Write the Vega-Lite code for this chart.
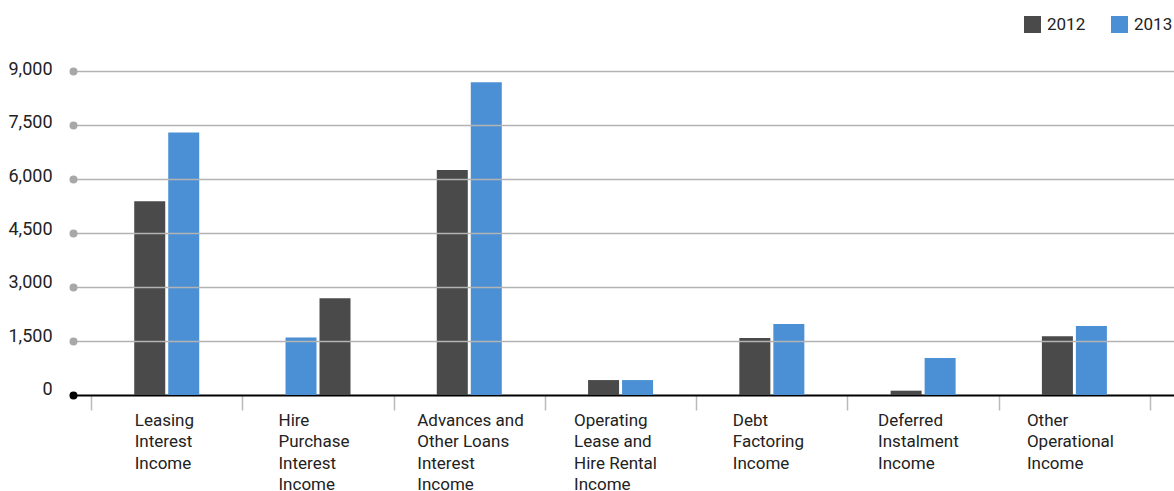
{
  "$schema": "https://vega.github.io/schema/vega-lite/v6.json",
  "autosize": "none",
  "width": 1101,
  "height": 324,
  "padding": {"left": 73, "top": 71, "right": 0, "bottom": 96},
  "background": "white",
  "data": {
    "values": [
      {"category": "Leasing Interest Income", "slot": 1, "year": "2012", "value": 5380},
      {"category": "Leasing Interest Income", "slot": 2, "year": "2013", "value": 7295},
      {"category": "Hire Purchase Interest Income", "slot": 1, "year": "2013", "value": 1600},
      {"category": "Hire Purchase Interest Income", "slot": 2, "year": "2012", "value": 2685},
      {"category": "Advances and Other Loans Interest Income", "slot": 1, "year": "2012", "value": 6250},
      {"category": "Advances and Other Loans Interest Income", "slot": 2, "year": "2013", "value": 8690},
      {"category": "Operating Lease and Hire Rental Income", "slot": 1, "year": "2012", "value": 415},
      {"category": "Operating Lease and Hire Rental Income", "slot": 2, "year": "2013", "value": 415},
      {"category": "Debt Factoring Income", "slot": 1, "year": "2012", "value": 1580},
      {"category": "Debt Factoring Income", "slot": 2, "year": "2013", "value": 1970},
      {"category": "Deferred Instalment Income", "slot": 1, "year": "2012", "value": 120},
      {"category": "Deferred Instalment Income", "slot": 2, "year": "2013", "value": 1025},
      {"category": "Other Operational Income", "slot": 1, "year": "2012", "value": 1635},
      {"category": "Other Operational Income", "slot": 2, "year": "2013", "value": 1915}
    ]
  },
  "config": {
    "view": {"stroke": null},
    "font": "Roboto"
  },
  "mark": {"type": "bar", "strokeWidth": 0},
  "encoding": {
    "x": {
      "field": "category",
      "type": "nominal",
      "sort": null,
      "scale": {"paddingInner": 0, "paddingOuter": 0.139, "align": 0.43},
      "axis": {
        "title": null,
        "orient": "bottom",
        "domain": true,
        "domainColor": "#000000",
        "domainWidth": 2,
        "ticks": true,
        "tickBand": "extent",
        "tickColor": "#bbbbbb",
        "tickWidth": 1.5,
        "tickSize": 15,
        "grid": false,
        "labelAngle": 0,
        "labelAlign": "left",
        "labelBaseline": "top",
        "labelPadding": 2,
        "labelFont": "Roboto",
        "labelFontSize": 17,
        "labelColor": "#222222",
        "labelLineHeight": 21.5,
        "labelBound": false,
        "labelOverlap": false,
        "labelLimit": 300,
        "labelOffset": {"expr": "{'Leasing Interest Income': -32.5, 'Hire Purchase Interest Income': -40, 'Advances and Other Loans Interest Income': -52.5, 'Operating Lease and Hire Rental Income': -47, 'Debt Factoring Income': -39.5, 'Deferred Instalment Income': -45.5, 'Other Operational Income': -48}[datum.value]"},
        "labelExpr": "{'Leasing Interest Income': ['Leasing','Interest','Income'], 'Hire Purchase Interest Income': ['Hire','Purchase','Interest','Income'], 'Advances and Other Loans Interest Income': ['Advances and','Other Loans','Interest','Income'], 'Operating Lease and Hire Rental Income': ['Operating','Lease and','Hire Rental','Income'], 'Debt Factoring Income': ['Debt','Factoring','Income'], 'Deferred Instalment Income': ['Deferred','Instalment','Income'], 'Other Operational Income': ['Other','Operational','Income']}[datum.label]"
      }
    },
    "xOffset": {
      "field": "slot",
      "type": "ordinal",
      "scale": {"range": [43.15, 108.15], "paddingInner": 0.088, "paddingOuter": 0}
    },
    "y": {
      "field": "value",
      "type": "quantitative",
      "scale": {"domain": [0, 9000], "nice": false},
      "axis": {
        "title": null,
        "values": [0, 1500, 3000, 4500, 6000, 7500, 9000],
        "format": ",.0f",
        "domain": false,
        "grid": true,
        "gridColor": {"expr": "datum.value == 0 ? 'rgba(0,0,0,0)' : '#b3b3b3'"},
        "gridWidth": 1.5,
        "ticks": true,
        "tickSize": 0,
        "tickWidth": 8,
        "tickCap": "round",
        "tickColor": {"expr": "datum.value == 0 ? '#000000' : '#a8a8a8'"},
        "labelFont": "Roboto",
        "labelFontSize": 18,
        "labelColor": "#222222",
        "labelPadding": 21,
        "labelOffset": {"expr": "-1.4 - 4.3 * (9000 - datum.value) / 9000"},
        "zindex": 1
      }
    },
    "color": {
      "field": "year",
      "type": "nominal",
      "scale": {"domain": ["2012", "2013"], "range": ["#4a4a4a", "#4b90d4"]},
      "legend": {
        "title": null,
        "orient": "none",
        "direction": "horizontal",
        "legendX": 951,
        "legendY": -55,
        "padding": 0,
        "symbolType": "square",
        "symbolSize": 289,
        "symbolStrokeWidth": 0,
        "symbolOpacity": 1,
        "labelFont": "Roboto",
        "labelFontSize": 17,
        "labelColor": "#222222",
        "labelOffset": 6,
        "columnPadding": 25
      }
    }
  }
}
